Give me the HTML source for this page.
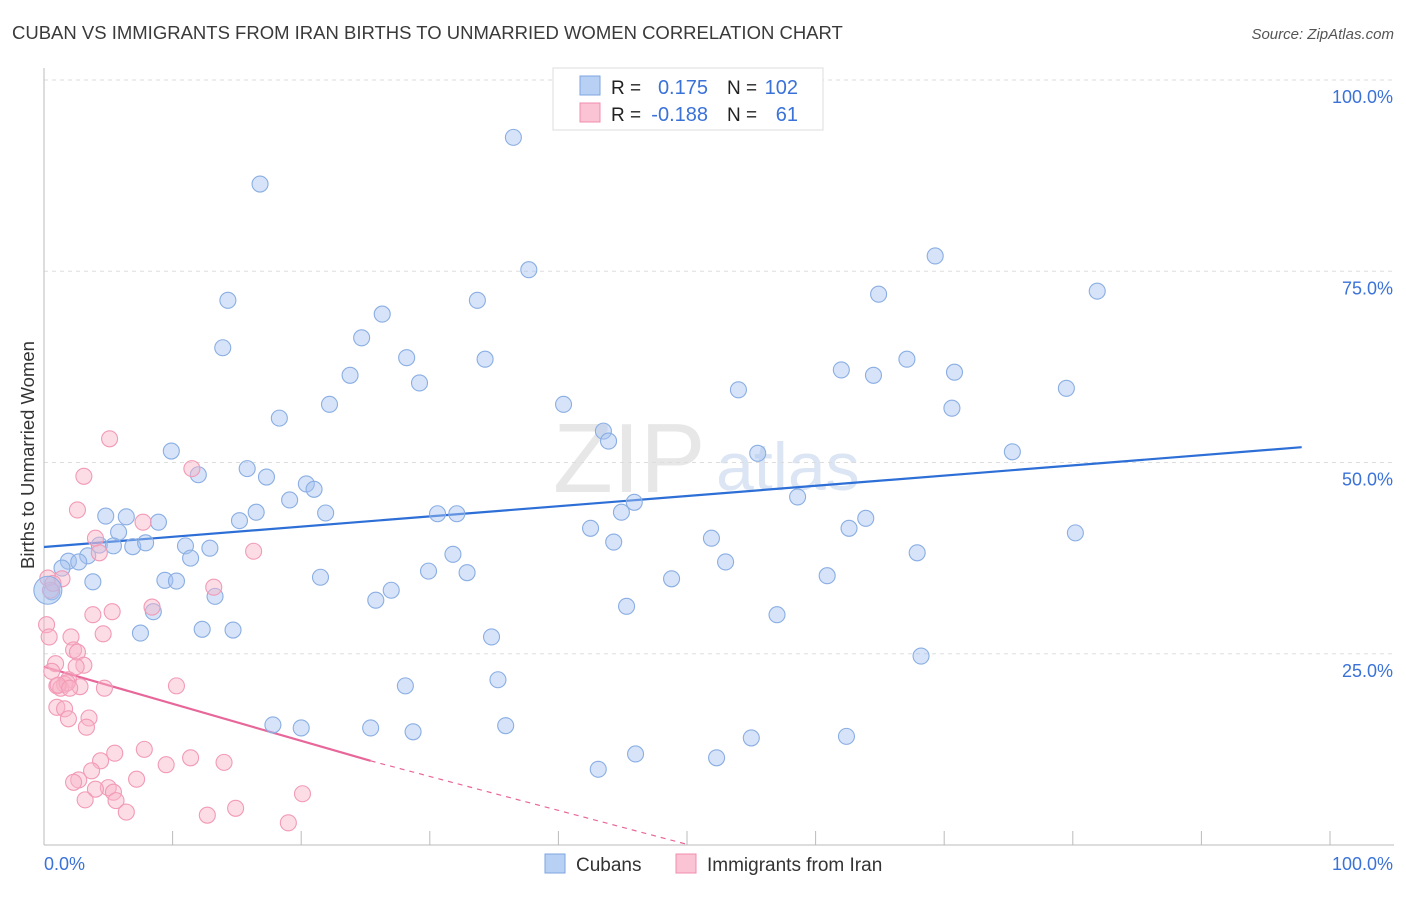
<!DOCTYPE html>
<html><head><meta charset="utf-8"><style>
body{margin:0;background:#fff;font-family:"Liberation Sans",sans-serif;}
svg text{font-family:"Liberation Sans",sans-serif;}
</style></head><body>
<svg id="chart" width="1406" height="892" xmlns="http://www.w3.org/2000/svg">
<text x="12" y="39" font-size="18.5" fill="#3a3a3a">CUBAN VS IMMIGRANTS FROM IRAN BIRTHS TO UNMARRIED WOMEN CORRELATION CHART</text>
<text x="1394" y="39" font-size="15" fill="#555" font-style="italic" text-anchor="end">Source: ZipAtlas.com</text>
<text x="553" y="492" font-size="98" fill="#d8d8d8" font-family="Liberation Serif" opacity="0.6">ZIP</text>
<text x="716" y="490" font-size="68" fill="#b9cdea" opacity="0.5">atlas</text>
<text transform="translate(34,455) rotate(-90)" font-size="18.5" fill="#333" text-anchor="middle">Births to Unmarried Women</text>
<g id="grid"></g><g id="ticks"></g><g id="trend"></g><g id="pts"></g>
<g>
<rect x="553" y="68" width="270" height="62" fill="#fff" stroke="#ddd"/>
<rect x="580" y="76" width="20" height="19" fill="#b8d0f4" stroke="#7ea6e0"/>
<rect x="580" y="103" width="20" height="19" fill="#fac4d4" stroke="#f08cac"/>
<text x="611" y="94" font-size="19" fill="#222">R =</text>
<text x="708" y="94" font-size="20" fill="#3a72d8" text-anchor="end">0.175</text>
<text x="727" y="94" font-size="19" fill="#222">N =</text>
<text x="798" y="94" font-size="20" fill="#3a72d8" text-anchor="end">102</text>
<text x="611" y="121" font-size="19" fill="#222">R =</text>
<text x="708" y="121" font-size="20" fill="#3a72d8" text-anchor="end">-0.188</text>
<text x="727" y="121" font-size="19" fill="#222">N =</text>
<text x="798" y="121" font-size="20" fill="#3a72d8" text-anchor="end">61</text>
</g>
<g>
<rect x="545" y="854" width="20" height="19" fill="#b8d0f4" stroke="#7ea6e0"/>
<text x="576" y="871" font-size="19" fill="#333">Cubans</text>
<rect x="676" y="854" width="20" height="19" fill="#fac4d4" stroke="#f08cac"/>
<text x="707" y="871" font-size="19" fill="#333">Immigrants from Iran</text>
</g>
<text x="44" y="870" font-size="18" fill="#3a72d8">0.0%</text>
<text x="1393" y="870" font-size="18" fill="#3a72d8" text-anchor="end">100.0%</text>
</svg>
<script>
const yTicks=[25,50,75,100];
const yTickLabels=["25.0%","50.0%","75.0%","100.0%"];
const xTicks=[0,10,20,30,40,50,60,70,80,90,100];
const cubanX=[36.5,16.8,37.7,69.3,64.9,81.9,14.3,33.7,26.3,13.9,24.7,28.2,34.3,23.8,29.2,54.0,62.0,64.5,67.1,70.8,79.5,22.2,40.4,18.3,70.6,43.5,43.9,55.5,75.3,9.9,15.8,12.0,17.3,20.4,21.0,19.1,16.5,15.2,21.9,45.9,44.9,58.6,30.6,32.1,63.9,62.6,80.2,42.5,51.9,44.3,4.8,6.4,8.9,5.8,4.3,5.4,6.9,7.9,11.0,12.9,11.4,3.4,1.9,2.7,1.4,67.9,53.0,29.9,31.8,32.9,21.5,60.9,48.8,9.4,10.3,3.8,27.0,25.8,13.3,45.3,8.5,57.0,7.5,12.3,14.7,34.8,68.2,28.1,35.3,17.8,20.0,25.4,28.7,35.9,55.0,62.4,46.0,52.3,43.1,0.6];
const cubanY=[92.5,86.4,75.2,77.0,72.0,72.4,71.2,71.2,69.4,65.0,66.3,63.7,63.5,61.4,60.4,59.5,62.1,61.4,63.5,61.8,59.7,57.6,57.6,55.8,57.1,54.1,52.8,51.2,51.4,51.5,49.2,48.4,48.1,47.2,46.5,45.1,43.5,42.4,43.4,44.8,43.5,45.5,43.3,43.3,42.7,41.4,40.8,41.4,40.1,39.6,43.0,42.9,42.2,40.9,39.2,39.1,39.0,39.5,39.1,38.8,37.5,37.8,37.1,37.0,36.2,38.2,37.0,35.8,38.0,35.6,35.0,35.2,34.8,34.6,34.5,34.4,33.3,32.0,32.5,31.2,30.5,30.1,27.7,28.2,28.1,27.2,24.7,20.8,21.6,15.7,15.3,15.3,14.8,15.6,14.0,14.2,11.9,11.4,9.9,33.1];
const iranX=[5.1,3.1,11.5,2.6,7.7,4.0,16.3,0.3,1.4,8.4,13.2,5.3,3.8,0.2,0.4,2.1,4.6,2.3,2.6,0.9,3.1,2.5,0.6,1.9,1.0,1.6,2.8,1.3,4.7,10.3,1.0,1.6,1.9,3.5,3.3,5.5,7.8,11.4,9.5,14.0,4.4,3.7,2.7,2.3,7.2,5.0,4.0,5.4,3.2,5.6,20.1,14.9,6.4,12.7,19.0,0.5,0.7,1.8,1.1,2.0,4.3];
const iranY=[53.1,48.2,49.2,43.8,42.2,40.1,38.4,34.9,34.8,31.1,33.7,30.5,30.1,28.8,27.2,27.2,27.6,25.5,25.2,23.7,23.5,23.3,22.7,21.6,20.8,21.0,20.7,20.5,20.5,20.8,18.0,17.8,16.5,16.6,15.4,12.0,12.5,11.4,10.5,10.8,11.0,9.7,8.5,8.2,8.6,7.5,7.3,6.9,5.9,5.8,6.7,4.8,4.3,3.9,2.9,33.3,34.2,21.2,20.9,20.5,38.2];
const bigPoint=[0.3,33.3];
const blueTrend=[[0,38.95],[97.8,52.0]];
const pinkTrendSolid=[[0,23.3],[25.4,11.0]];
const pinkTrendDash=[[25.4,11.0],[50.2,0]];
const NS="http://www.w3.org/2000/svg";
const X=v=>44+v*12.86, Y=v=>845-v*7.65;
function mk(t,a,p){const e=document.createElementNS(NS,t);for(const k in a)e.setAttribute(k,a[k]);p.appendChild(e);return e;}
const grid=document.getElementById('grid'),ticks=document.getElementById('ticks'),trend=document.getElementById('trend'),pts=document.getElementById('pts');
yTicks.forEach((t,i)=>{
 const l=mk('line',{x1:44,x2:1394,y1:Y(t),y2:Y(t),stroke:'#ddd','stroke-dasharray':'4,4'},grid);
 
 
 const tx=mk('text',{x:1393,y:Y(t)+23,'font-size':18,fill:'#3a72d8','text-anchor':'end'},ticks);
 tx.textContent=yTickLabels[i];
 
 
});
const ax=mk('line',{x1:44,x2:1394,y1:845,y2:845,stroke:'#bbb'},ticks);


const ay=mk('line',{x1:44,x2:44,y1:68,y2:845,stroke:'#bbb'},ticks);


xTicks.forEach(t=>{const l=mk('line',{x1:X(t),x2:X(t),y1:831,y2:845,stroke:'#bbb'},ticks);
 
 });
function ln(seg,col,w,dash,name){const l=mk('line',{x1:X(seg[0][0]),y1:Y(seg[0][1]),x2:X(seg[1][0]),y2:Y(seg[1][1]),stroke:col,'stroke-width':w},trend);if(dash)l.setAttribute('stroke-dasharray',dash);
 
 }
ln(blueTrend,'#2d6fd6',2.2,null,'cubans-trend-line');
ln(pinkTrendSolid,'#e8679a',2.2,null,'iran-trend-line');
ln(pinkTrendDash,'#e8679a',1.2,'5,5','iran-trend-extension');
cubanX.forEach((x,i)=>{const c=mk('circle',{cx:X(x),cy:Y(cubanY[i]),r:8,fill:'rgba(164,194,240,0.45)',stroke:'#8aaee3','stroke-width':1.1},pts);
 
 });
iranX.forEach((x,i)=>{const c=mk('circle',{cx:X(x),cy:Y(iranY[i]),r:8,fill:'rgba(248,180,200,0.45)',stroke:'#f29ab6','stroke-width':1.1},pts);
 
 });
const b=mk('circle',{cx:X(bigPoint[0]),cy:Y(bigPoint[1]),r:14,fill:'rgba(164,194,240,0.55)',stroke:'#8aaee3','stroke-width':1.1},pts);


</script>
</body></html>
